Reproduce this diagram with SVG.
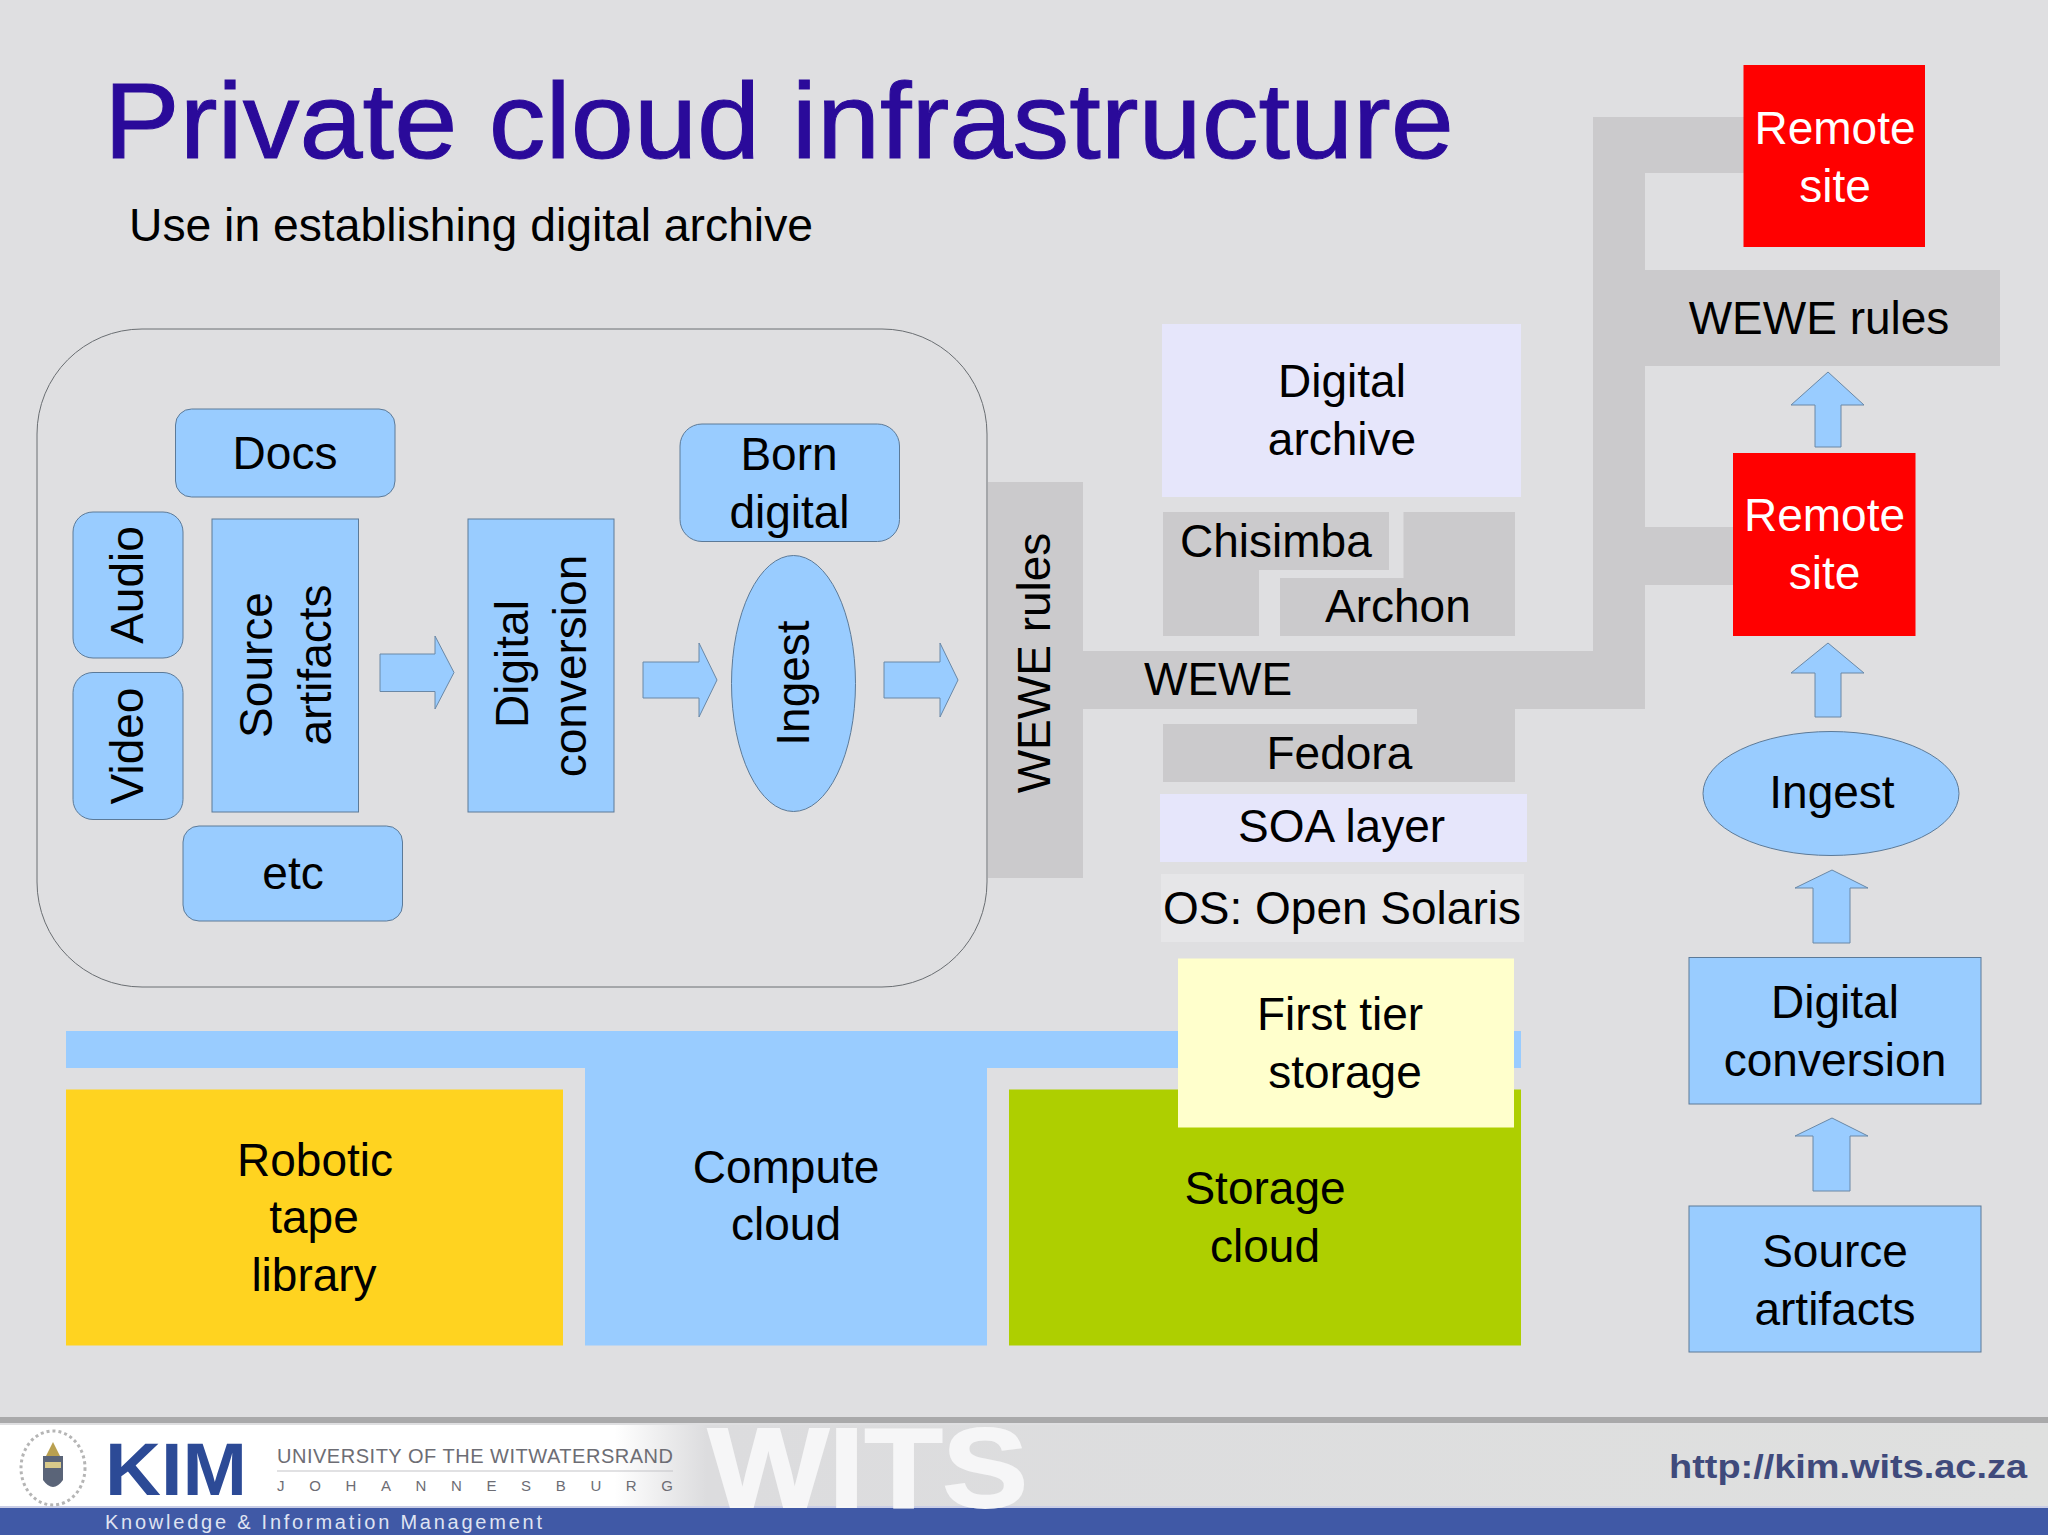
<svg xmlns="http://www.w3.org/2000/svg" width="2048" height="1535" viewBox="0 0 2048 1535">
<defs>
<linearGradient id="footerFade" gradientUnits="userSpaceOnUse" x1="0" x2="2048" y1="0" y2="0">
<stop offset="0" stop-color="#ffffff"/><stop offset="0.3" stop-color="#ffffff"/><stop offset="0.345" stop-color="#dcdcde"/><stop offset="1" stop-color="#dfe0df"/>
</linearGradient>
</defs>
<style>
text{font-family:"Liberation Sans",Arial,sans-serif;fill:#000;font-size:46px}
.m{text-anchor:middle}
.b{fill:#99ccff;stroke:#5c7a98;stroke-width:1}
.a{fill:#99ccff;stroke:#6a88a6;stroke-width:1}
.g{fill:#cbcacc}
.l{fill:#e6e6fb}
</style>
<rect width="2048" height="1535" fill="#dfdfe1"/>
<text x="104" y="158" style="font-size:108px;fill:#2a0a9a;stroke:#2a0a9a;stroke-width:1" textLength="1350" lengthAdjust="spacingAndGlyphs">Private cloud infrastructure</text>
<text x="129" y="241" textLength="684" lengthAdjust="spacingAndGlyphs">Use in establishing digital archive</text>

<g id="container"><rect x="37" y="329" width="950" height="658" rx="105" ry="105" fill="#dfdfe1" stroke="#6a6e72" stroke-width="1"/></g>

<g id="connectors">
<path class="g" d="M1083 651H1593V117H1744V173H1645V527H1733V585H1645V709H1515V782H1163V724H1417V709H1083Z"/>
<rect class="g" x="1645" y="270" width="355" height="96"/>
<path class="a" d="M380 654H435V636L454 672.500 435 709V691.500H380Z"/>
<path class="a" d="M643 662H699V643L717 680 699 717V698H643Z"/>
<path class="a" d="M884 662H940V643L958 680 940 717V698H884Z"/>
<path class="a" d="M1815 447V405H1791L1828 372 1864 405H1841V447Z"/>
<path class="a" d="M1815 717V673H1791L1828 643 1864 673H1841V717Z"/>
<path class="a" d="M1813 943V888H1795L1832 870 1868 888H1850V943Z"/>
<path class="a" d="M1813 1191V1136H1795L1832 1118 1868 1136H1850V1191Z"/>
</g>

<g id="docs"><rect class="b" x="175.500" y="409" width="219.500" height="88" rx="16"/><text class="m" x="285" y="469">Docs</text></g>
<g id="audio"><rect class="b" x="73" y="512" width="110" height="146" rx="20"/><text class="m" transform="translate(143 585) rotate(-90)">Audio</text></g>
<g id="video"><rect class="b" x="73" y="672.500" width="110" height="147" rx="20"/><text class="m" transform="translate(143 746) rotate(-90)">Video</text></g>
<g id="source-left"><rect class="b" x="212" y="519" width="146.500" height="293"/><text class="m" transform="translate(272 665) rotate(-90)">Source</text><text class="m" transform="translate(330.500 665) rotate(-90)">artifacts</text></g>
<g id="etc"><rect class="b" x="183" y="826" width="219.500" height="95" rx="16"/><text class="m" x="293" y="889">etc</text></g>
<g id="conversion-left"><rect class="b" x="468" y="519" width="146" height="293"/><text class="m" transform="translate(528 664) rotate(-90)">Digital</text><text class="m" transform="translate(586 666) rotate(-90)">conversion</text></g>
<g id="born"><rect class="b" x="680" y="424" width="219.500" height="117.500" rx="22"/><text class="m" x="789" y="470">Born</text><text class="m" x="789.500" y="528">digital</text></g>
<g id="ingest-left"><ellipse class="b" cx="793.500" cy="683.500" rx="62" ry="128"/><text class="m" transform="translate(809 683) rotate(-90)">Ingest</text></g>
<g id="wewe-rules-v"><rect class="g" x="988" y="482" width="95" height="396"/><text class="m" transform="translate(1050 663) rotate(-90)">WEWE rules</text></g>

<g id="digital-archive"><rect class="l" x="1162" y="324" width="359" height="173"/><text class="m" x="1342" y="397">Digital</text><text class="m" x="1342" y="455">archive</text></g>
<g id="chisimba"><path class="g" d="M1163 512H1389V570H1259V636H1163Z"/><text x="1180" y="557">Chisimba</text></g>
<g id="archon"><path class="g" d="M1403.500 512H1515V636H1280V578H1403.500Z"/><text x="1325" y="622">Archon</text></g>
<g id="wewe"><text x="1144" y="695">WEWE</text></g>
<g id="fedora"><text x="1266.500" y="769">Fedora</text></g>
<g id="soa"><rect class="l" x="1160" y="794" width="367" height="68"/><text x="1238" y="842">SOA layer</text></g>
<g id="os"><rect x="1161" y="874" width="363" height="68" fill="#e6e6e8"/><text x="1163" y="924">OS: Open Solaris</text></g>

<g id="remote-1"><rect x="1743.500" y="65" width="181.500" height="182" fill="#ff0000"/><text class="m" style="fill:#fff" x="1835" y="144">Remote</text><text class="m" style="fill:#fff" x="1835" y="202">site</text></g>
<g id="wewe-rules-h"><text class="m" x="1819" y="334">WEWE rules</text></g>
<g id="remote-2"><rect x="1733" y="453" width="182.500" height="183" fill="#ff0000"/><text class="m" style="fill:#fff" x="1824.500" y="531">Remote</text><text class="m" style="fill:#fff" x="1824.500" y="589">site</text></g>
<g id="ingest-right"><ellipse class="b" cx="1831" cy="793.500" rx="128" ry="62"/><text class="m" x="1832" y="808">Ingest</text></g>
<g id="conversion-right"><rect class="b" x="1689" y="957.500" width="292" height="146.500"/><text class="m" x="1835" y="1018">Digital</text><text class="m" x="1835" y="1076">conversion</text></g>
<g id="source-right"><rect class="b" x="1689" y="1206" width="292" height="146"/><text class="m" x="1835" y="1267">Source</text><text class="m" x="1835" y="1325">artifacts</text></g>

<g id="compute"><path d="M66 1031H1521V1068H987V1345.500H585V1068H66Z" fill="#99ccff"/><text class="m" x="786" y="1183">Compute</text><text class="m" x="786" y="1240">cloud</text></g>
<g id="robotic"><rect x="66" y="1089.500" width="497" height="256" fill="#ffd320"/><text class="m" x="315" y="1176">Robotic</text><text class="m" x="314" y="1233">tape</text><text class="m" x="314" y="1291">library</text></g>
<g id="storage"><rect x="1009" y="1089.500" width="512" height="256" fill="#aecf00"/><text class="m" x="1265" y="1204">Storage</text><text class="m" x="1265" y="1262">cloud</text></g>
<g id="first-tier"><rect x="1178" y="958.500" width="336" height="169" fill="#ffffcc"/><text class="m" x="1340" y="1030">First tier</text><text class="m" x="1345" y="1088">storage</text></g>

<rect y="1417" width="2048" height="6" fill="#a9a9aa"/>
<rect y="1425" width="2048" height="82" fill="url(#footerFade)"/>
<rect y="1506" width="2048" height="2" fill="#c9cde6"/>
<rect y="1508" width="2048" height="27" fill="#4059a6"/>
<text x="708" y="1507" style="font-size:114px;font-weight:bold;fill:#f6f6f7;stroke:#f6f6f7;stroke-width:2" textLength="320" lengthAdjust="spacingAndGlyphs">WITS</text>
<ellipse cx="53" cy="1468" rx="32" ry="37" fill="none" stroke="#b5b5b5" stroke-width="3" stroke-dasharray="3 3"/>
<path d="M43 1456H63V1480Q53 1494 43 1480Z" fill="#5a6478"/>
<path d="M46 1456L53 1442 60 1456Z" fill="#b9a050"/>
<rect x="45" y="1462" width="16" height="6" fill="#d8c98a"/>
<text x="105" y="1495" style="font-size:74px;font-weight:bold;fill:#2c4a96" textLength="142" lengthAdjust="spacingAndGlyphs">KIM</text>
<text x="277" y="1463" style="font-size:20px;fill:#6d6d74" textLength="396" lengthAdjust="spacing">UNIVERSITY OF THE WITWATERSRAND</text>
<rect x="277" y="1470.500" width="396" height="1" fill="#c4c4c8"/>
<text x="277" y="1491" style="font-size:15px;fill:#6d6d74" textLength="396" lengthAdjust="spacing">JOHANNESBURG</text>
<text x="105" y="1529" style="font-size:20px;fill:#dfe3f2" textLength="437" lengthAdjust="spacing">Knowledge &amp; Information Management</text>
<text x="1669" y="1478" style="font-size:34px;font-weight:bold;fill:#3f4a7c" textLength="358" lengthAdjust="spacingAndGlyphs">http://kim.wits.ac.za</text>
</svg>
